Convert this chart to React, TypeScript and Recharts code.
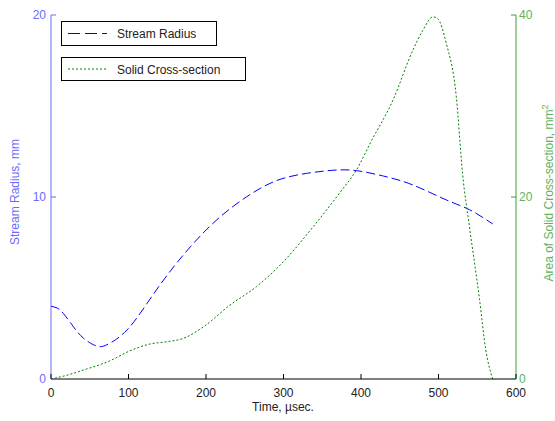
import { LineChart, Line, XAxis, YAxis, Legend } from "recharts";

const radiusTime = [0, 8, 16, 29, 42, 59, 74, 98, 124, 150, 180, 214, 252, 291, 330, 364, 394, 429, 467, 510, 540, 570];
const radiusValues = [4.0, 3.9, 3.6, 2.87, 2.24, 1.81, 1.92, 2.69, 4.16, 5.71, 7.27, 8.75, 10.0, 10.9, 11.3, 11.47, 11.45, 11.15, 10.66, 9.84, 9.3, 8.52];

const areaTime = [0, 20, 42, 76, 102, 128, 150, 171, 197, 231, 265, 300, 338, 372, 394, 413, 441, 467, 480, 493, 499, 510, 523, 531, 540, 553, 561, 570];
const areaValues = [0, 0.4, 0.99, 2.0, 3.1, 3.85, 4.1, 4.47, 5.75, 8.13, 10.14, 12.9, 16.7, 20.4, 22.96, 26.1, 30.6, 36.15, 38.35, 39.8, 39.6, 36.9, 31.0, 22.6, 16.7, 8.7, 3.2, 0];

const timeTicks = [0, 100, 200, 300, 400, 500, 600];
const radiusTicks = [0, 10, 20];
const areaTicks = [0, 20, 40];

const radiusData = radiusTime.map((t, i) => ({ t, radius: radiusValues[i] }));
const areaData = areaTime.map((t, i) => ({ t, area: areaValues[i] }));

const FONT = "'Liberation Sans', Arial, sans-serif";
const BLUE_AXIS = "#6a6aff";
const GREEN_AXIS = "#3aa03a";
const GREEN_TEXT = "#5db35d";

function BottomTick(props: any) {
    const { x, y, payload } = props;
    return (
        <g>
            <line x1={x} y1={y} x2={x} y2={y - 5} stroke="#000" />
            <text x={x} y={y + 18} textAnchor="middle" fontSize={12} fill="#222" fontFamily={FONT}>
                {payload.value}
            </text>
        </g>
    );
}

function TopTick(props: any) {
    const { x, y } = props;
    return <line x1={x} y1={y} x2={x} y2={y + 5} stroke="#000" />;
}

function LeftTick(props: any) {
    const { x, y, payload } = props;
    return (
        <g>
            <line x1={x} y1={y} x2={x + 5} y2={y} stroke={BLUE_AXIS} />
            <text x={x - 5} y={y} dy="0.35em" textAnchor="end" fontSize={12} fill={BLUE_AXIS} fontFamily={FONT}>
                {payload.value}
            </text>
        </g>
    );
}

function RightTick(props: any) {
    const { x, y, payload } = props;
    return (
        <g>
            <line x1={x} y1={y} x2={x - 5} y2={y} stroke={GREEN_AXIS} />
            <text x={x + 3} y={y} dy="0.35em" textAnchor="start" fontSize={12} fill={GREEN_TEXT} fontFamily={FONT}>
                {payload.value}
            </text>
        </g>
    );
}

function LegendBoxes() {
    return (
        <svg width={186} height={61} style={{ display: "block" }}>
            <rect x={0.5} y={0.5} width={155} height={24} fill="#fff" stroke="#000" />
            <line x1={7} y1={12.5} x2={46} y2={12.5} stroke="#0000ff" strokeDasharray="12 5" />
            <text x={56} y={17} fontSize={12} fill="#222" fontFamily={FONT}>Stream Radius</text>
            <rect x={0.5} y={36.5} width={184} height={23} fill="#fff" stroke="#000" />
            <line x1={7} y1={48} x2={46} y2={48} stroke="#008000" strokeDasharray="2 2" />
            <text x={56} y={52.5} fontSize={12} fill="#222" fontFamily={FONT}>Solid Cross-section</text>
        </svg>
    );
}

export default function App() {
    return (
        <div style={{ position: "absolute", left: 0, top: 0, width: 555, height: 421, background: "#fff" }}>
            <LineChart width={555} height={421} margin={{ top: 15, right: 0, bottom: 0, left: 0 }}>
                <XAxis
                    dataKey="t"
                    type="number"
                    domain={[0, 600]}
                    ticks={timeTicks}
                    height={42}
                    axisLine={{ stroke: "#000" }}
                    tickLine={false}
                    tickSize={0}
                    tickMargin={0}
                    tick={<BottomTick />}
                    allowDataOverflow
                    label={{
                        content: () => (
                            <text x={283} y={411} textAnchor="middle" fontSize={12} fill="#222" fontFamily={FONT}>
                                Time, µsec.
                            </text>
                        ),
                    }}
                />
                <XAxis
                    xAxisId="top"
                    orientation="top"
                    dataKey="t"
                    type="number"
                    domain={[0, 600]}
                    ticks={timeTicks}
                    height={0}
                    axisLine={{ stroke: "#000" }}
                    tickLine={false}
                    tickSize={0}
                    tickMargin={0}
                    tick={<TopTick />}
                />
                <YAxis
                    yAxisId="left"
                    type="number"
                    domain={[0, 20]}
                    ticks={radiusTicks}
                    width={51}
                    axisLine={{ stroke: BLUE_AXIS }}
                    tickLine={false}
                    tickSize={0}
                    tickMargin={0}
                    tick={<LeftTick />}
                    label={{
                        content: () => (
                            <text
                                x={19}
                                y={192}
                                transform="rotate(-90 19 192)"
                                textAnchor="middle"
                                fontSize={12}
                                fill={BLUE_AXIS}
                                fontFamily={FONT}
                            >
                                Stream Radius, mm
                            </text>
                        ),
                    }}
                />
                <YAxis
                    yAxisId="right"
                    orientation="right"
                    type="number"
                    domain={[0, 40]}
                    ticks={areaTicks}
                    width={39}
                    axisLine={{ stroke: GREEN_AXIS }}
                    tickLine={false}
                    tickSize={0}
                    tickMargin={0}
                    tick={<RightTick />}
                    label={{
                        content: () => (
                            <text
                                x={553}
                                y={193}
                                transform="rotate(-90 553 193)"
                                textAnchor="middle"
                                fontSize={12}
                                fill={GREEN_TEXT}
                                fontFamily={FONT}
                            >
                                Area of Solid Cross-section, mm<tspan dy={-5} fontSize={9}>2</tspan>
                            </text>
                        ),
                    }}
                />
                <Legend
                    layout="vertical"
                    align="center"
                    verticalAlign="middle"
                    wrapperStyle={{ left: 61, top: 21, width: 186 }}
                    content={() => <LegendBoxes />}
                />
                <Line
                    data={radiusData}
                    yAxisId="left"
                    dataKey="radius"
                    name="Stream Radius"
                    type="natural"
                    stroke="#0000ff"
                    strokeWidth={1}
                    strokeDasharray="9 4"
                    dot={false}
                    isAnimationActive={false}
                />
                <Line
                    data={areaData}
                    yAxisId="right"
                    dataKey="area"
                    name="Solid Cross-section"
                    type="monotone"
                    stroke="#008000"
                    strokeWidth={1}
                    strokeDasharray="2 2"
                    dot={false}
                    isAnimationActive={false}
                />
            </LineChart>
        </div>
    );
}
